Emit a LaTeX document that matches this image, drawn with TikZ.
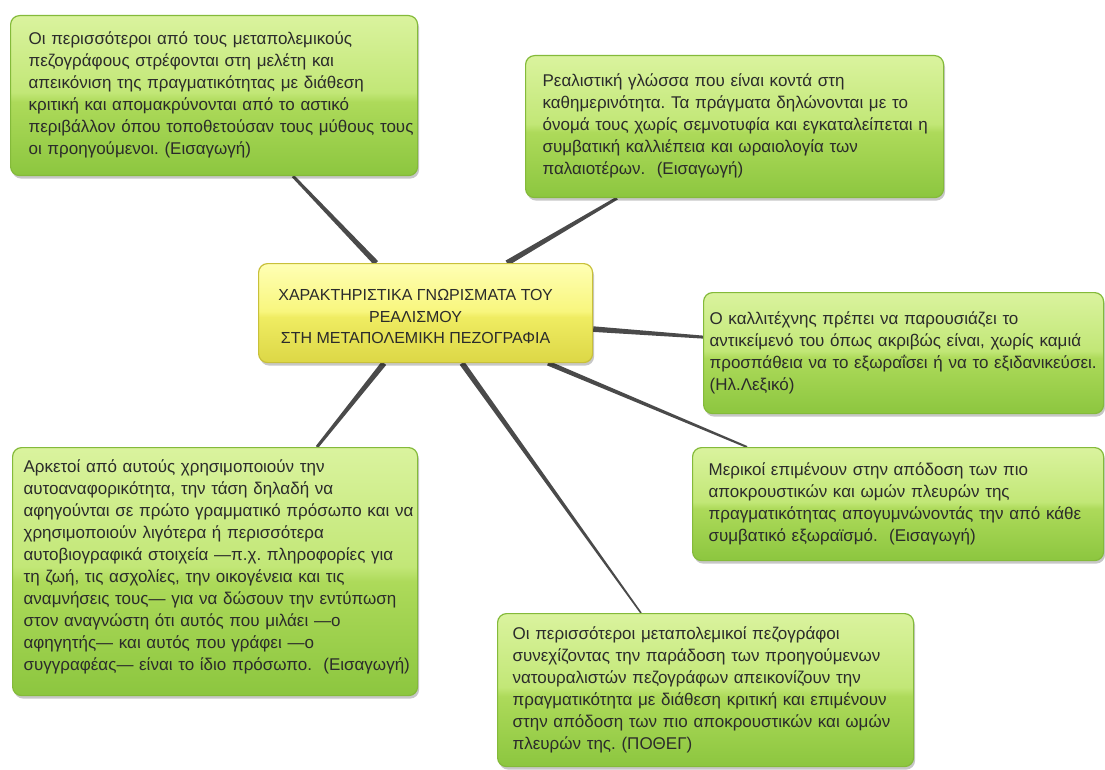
\documentclass[tikz,border=0pt]{standalone}
\usepackage{fontspec}
\setmainfont{Liberation Sans}
\usetikzlibrary{calc,shadows,backgrounds}
\definecolor{gtop}{HTML}{DAF39E}
\definecolor{gmid}{HTML}{C2E777}
\definecolor{gglo}{HTML}{ADDA5A}
\definecolor{gbot}{HTML}{8CC63F}
\definecolor{gborder}{HTML}{84BA3A}
\definecolor{ytop}{HTML}{FFFFB4}
\definecolor{ymid}{HTML}{F8F67E}
\definecolor{yglo}{HTML}{EFEC62}
\definecolor{ybot}{HTML}{DCD746}
\definecolor{yborder}{HTML}{C8C03A}
\definecolor{txt}{HTML}{2B2B2B}
\definecolor{connc}{HTML}{4A4A4A}
\pgfdeclareverticalshading{greenshade}{100bp}{color(0bp)=(gbot); color(25bp)=(gbot); color(48bp)=(gglo); color(51bp)=(gmid); color(75bp)=(gtop); color(100bp)=(gtop)}
\pgfdeclareverticalshading{yellowshade}{100bp}{color(0bp)=(ybot); color(25bp)=(ybot); color(48bp)=(yglo); color(51bp)=(ymid); color(75bp)=(ytop); color(100bp)=(ytop)}
\newcommand\taperlink[4]{\fill[conn] ($(#1)!#3!90:(#2)$) -- ($(#2)!#4!-90:(#1)$) -- ($(#2)!#4!90:(#1)$) -- ($(#1)!#3!-90:(#2)$) -- cycle;}
\frenchspacing
\tikzset{
  boxbase/.style={rounded corners=9pt, line width=1.2pt, anchor=north west, inner ysep=0pt,
    text=txt,
    drop shadow={shadow xshift=1.5pt, shadow yshift=-3pt, fill=black, opacity=0.22}},
  leaf/.style={boxbase, draw=gborder, shading=greenshade, align=left, font=\fontsize{17}{22}\selectfont},
  hub/.style={boxbase, draw=yborder, shading=yellowshade, align=center, font=\fontsize{16}{21.5}\selectfont},
  conn/.style={fill=connc}
}
\begin{document}
\begin{tikzpicture}[x=1pt,y=-1pt]
\useasboundingbox (0,0) rectangle (1105,770);
\begin{scope}[on background layer]
\fill[white] (0,0) rectangle (1105,770);
\end{scope}

\node[leaf, minimum width=407pt, minimum height=160pt, text width=371pt, inner xsep=18pt] (A) at (10,15)
{\begin{tabular}{@{}l@{}}Οι περισσότεροι από τους μεταπολεμικούς\\
πεζογράφους στρέφονται στη μελέτη και\\
απεικόνιση της πραγματικότητας με διάθεση\\
κριτική και απομακρύνονται από το αστικό\\
περιβάλλον όπου τοποθετούσαν τους μύθους τους\\
οι προηγούμενοι. (Εισαγωγή)\end{tabular}};

\node[leaf, minimum width=418pt, minimum height=142pt, text width=384pt, inner xsep=17pt] (B) at (525,55)
{\begin{tabular}{@{}l@{}}Ρεαλιστική γλώσσα που είναι κοντά στη\\
καθημερινότητα. Τα πράγματα δηλώνονται με το\\
όνομά τους χωρίς σεμνοτυφία και εγκαταλείπεται η\\
συμβατική καλλιέπεια και ωραιολογία των\\
παλαιοτέρων.\ \ (Εισαγωγή)\end{tabular}};

\node[hub, minimum width=334pt, minimum height=99pt, inner xsep=0pt] (C) at (258,263)
{\raisebox{-5pt}[\height][\depth]{\begin{tabular}{@{}c@{}}ΧΑΡΑΚΤΗΡΙΣΤΙΚΑ ΓΝΩΡΙΣΜΑΤΑ ΤΟΥ\\
ΡΕΑΛΙΣΜΟΥ\\
ΣΤΗ ΜΕΤΑΠΟΛΕΜΙΚΗ ΠΕΖΟΓΡΑΦΙΑ\end{tabular}}\hspace*{20pt}};

\node[leaf, minimum width=400pt, minimum height=121pt, text width=388pt, inner xsep=6pt] (D) at (703,292)
{\begin{tabular}{@{}l@{}}Ο καλλιτέχνης πρέπει να παρουσιάζει το\\
αντικείμενό του όπως ακριβώς είναι, χωρίς καμιά\\
προσπάθεια να το εξωραΐσει ή να το εξιδανικεύσει.\\
(Ηλ.Λεξικό)\end{tabular}};

\node[leaf, minimum width=411pt, minimum height=113pt, text width=379pt, inner xsep=16pt] (E) at (692,447)
{\begin{tabular}{@{}l@{}}Μερικοί επιμένουν στην απόδοση των πιο\\
αποκρουστικών και ωμών πλευρών της\\
πραγματικότητας απογυμνώνοντάς την από κάθε\\
συμβατικό εξωραϊσμό.\ \ (Εισαγωγή)\end{tabular}};

\node[leaf, minimum width=405pt, minimum height=248pt, text width=383pt, inner xsep=11pt] (F) at (12,447)
{\raisebox{5pt}[\height][\depth]{\begin{tabular}{@{}l@{}}Αρκετοί από αυτούς χρησιμοποιούν την\\
αυτοαναφορικότητα, την τάση δηλαδή να\\
αφηγούνται σε πρώτο γραμματικό πρόσωπο και να\\
χρησιμοποιούν λιγότερα ή περισσότερα\\
αυτοβιογραφικά στοιχεία —π.χ. πληροφορίες για\\
τη ζωή, τις ασχολίες, την οικογένεια και τις\\
αναμνήσεις τους— για να δώσουν την εντύπωση\\
στον αναγνώστη ότι αυτός που μιλάει —ο\\
αφηγητής— και αυτός που γράφει —ο\\
συγγραφέας— είναι το ίδιο πρόσωπο.\ \ (Εισαγωγή)\end{tabular}}};

\node[leaf, minimum width=416pt, minimum height=153pt, text width=386pt, inner xsep=15pt] (G) at (497,613)
{\begin{tabular}{@{}l@{}}Οι περισσότεροι μεταπολεμικοί πεζογράφοι\\
συνεχίζοντας την παράδοση των προηγούμενων\\
νατουραλιστών πεζογράφων απεικονίζουν την\\
πραγματικότητα με διάθεση κριτική και επιμένουν\\
στην απόδοση των πιο αποκρουστικών και ωμών\\
πλευρών της. (ΠΟΘΕΓ)\end{tabular}};

\coordinate (ca) at ([xshift=118pt]C.north west);
\coordinate (la) at ([xshift=283pt]A.south west);
\coordinate (cb) at ([xshift=249pt]C.north west);
\coordinate (lb) at ([xshift=92pt]B.south west);
\coordinate (cd) at ([yshift=-16pt]C.east);
\coordinate (ld) at ([yshift=16pt]D.west);
\coordinate (ce) at ([xshift=290pt]C.south west);
\coordinate (le) at ([xshift=55pt]E.north west);
\coordinate (cg) at ([xshift=204pt]C.south west);
\coordinate (lg) at ([xshift=144pt]G.north west);
\coordinate (cf) at ([xshift=126pt]C.south west);
\coordinate (lf) at ([xshift=305pt]F.north west);

\begin{scope}[on background layer]
\taperlink{ca}{la}{2.8pt}{1.5pt}
\taperlink{cb}{lb}{2.8pt}{1.5pt}
\taperlink{cd}{ld}{2.8pt}{1.5pt}
\taperlink{ce}{le}{2.4pt}{1pt}
\taperlink{cg}{lg}{2.8pt}{0.8pt}
\taperlink{cf}{lf}{2.8pt}{1.5pt}
\end{scope}
\end{tikzpicture}
\end{document}
